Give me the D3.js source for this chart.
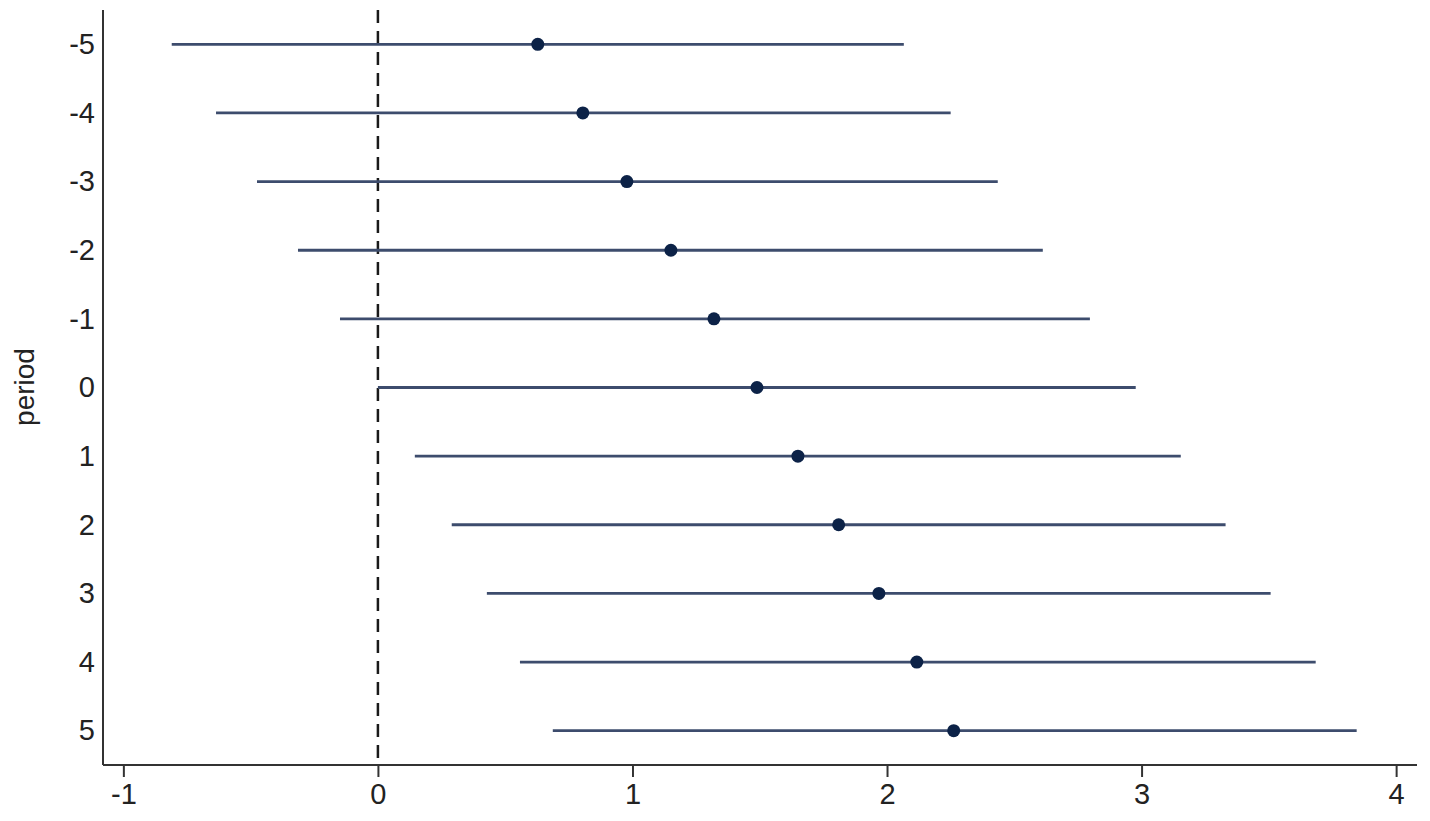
<!DOCTYPE html>
<html>
<head>
<meta charset="utf-8">
<script src="https://cdn.jsdelivr.net/npm/d3@7"></script>
<style>
  body { margin: 0; background: #fff; }
  text { font-family: "Liberation Sans", Arial, sans-serif; }
</style>
</head>
<body>
<div class="container"></div>
<script>
// coefficient plot: point estimate + CI per period
const periods = [-5, -4, -3, -2, -1, 0, 1, 2, 3, 4, 5];
const estimates = [0.628, 0.805, 0.978, 1.151, 1.32, 1.489, 1.65, 1.81, 1.968, 2.117, 2.262];
const ciLow = [-0.81, -0.636, -0.475, -0.314, -0.149, 0.0, 0.145, 0.29, 0.428, 0.558, 0.687];
const ciHigh = [2.066, 2.25, 2.435, 2.612, 2.797, 2.977, 3.154, 3.33, 3.507, 3.684, 3.845];
const xTicks = [-1, 0, 1, 2, 3, 4];

const w = 1430, h = 821;
const mLeft = 103, mRight = 1417, mTop = 10, mBottom = 765;

const svg = d3.select(".container")
  .append("svg")
  .attr("width", w)
  .attr("height", h);

const x = d3.scaleLinear().domain([-1.08, 4.082]).range([mLeft, mRight]);
const y = d3.scaleLinear().domain([-5.5, 5.5]).range([mTop, mBottom]);

// plain hyphen for negatives, like the original
const fmt = d => String(d);

// zero reference line
svg.append("line")
  .attr("x1", x(0)).attr("x2", x(0))
  .attr("y1", mTop).attr("y2", mBottom)
  .attr("stroke", "#1a1a1a")
  .attr("stroke-width", 2.5)
  .attr("stroke-dasharray", "13,8");

const rows = periods.map((p, i) => ({p, est: estimates[i], lo: ciLow[i], hi: ciHigh[i]}));

svg.selectAll("line.ci")
  .data(rows)
  .enter()
  .append("line")
  .attr("class", "ci")
  .attr("x1", d => x(d.lo))
  .attr("x2", d => x(d.hi))
  .attr("y1", d => y(d.p))
  .attr("y2", d => y(d.p))
  .attr("stroke", "#3d4c6d")
  .attr("stroke-width", 2.8);

svg.selectAll("circle")
  .data(rows)
  .enter()
  .append("circle")
  .attr("cx", d => x(d.est))
  .attr("cy", d => y(d.p))
  .attr("r", 6.5)
  .attr("fill", "#0c2247");

// axes
const xAxis = svg.append("g")
  .attr("transform", `translate(0,${mBottom})`)
  .call(d3.axisBottom(x).tickValues(xTicks).tickSize(12).tickPadding(6).tickFormat(fmt));

const yAxis = svg.append("g")
  .attr("transform", `translate(${mLeft},0)`)
  .call(d3.axisLeft(y).tickValues(periods).tickSize(0).tickPadding(8).tickFormat(fmt));

[xAxis, yAxis].forEach(g => {
  g.select(".domain").attr("stroke", "#333").attr("stroke-width", 2);
  g.selectAll(".tick line").attr("stroke", "#333").attr("stroke-width", 2);
  g.selectAll(".tick text").attr("fill", "#222").style("font-size", "29px");
});
// domain paths without outer ticks
xAxis.select(".domain").attr("d", `M${mLeft},0H${mRight}`);
yAxis.select(".domain").attr("d", `M0,${mTop}V${mBottom}`);

svg.append("text")
  .attr("transform", `translate(34,387) rotate(-90)`)
  .attr("text-anchor", "middle")
  .attr("fill", "#222")
  .style("font-size", "28px")
  .text("period");
</script>
</body>
</html>
